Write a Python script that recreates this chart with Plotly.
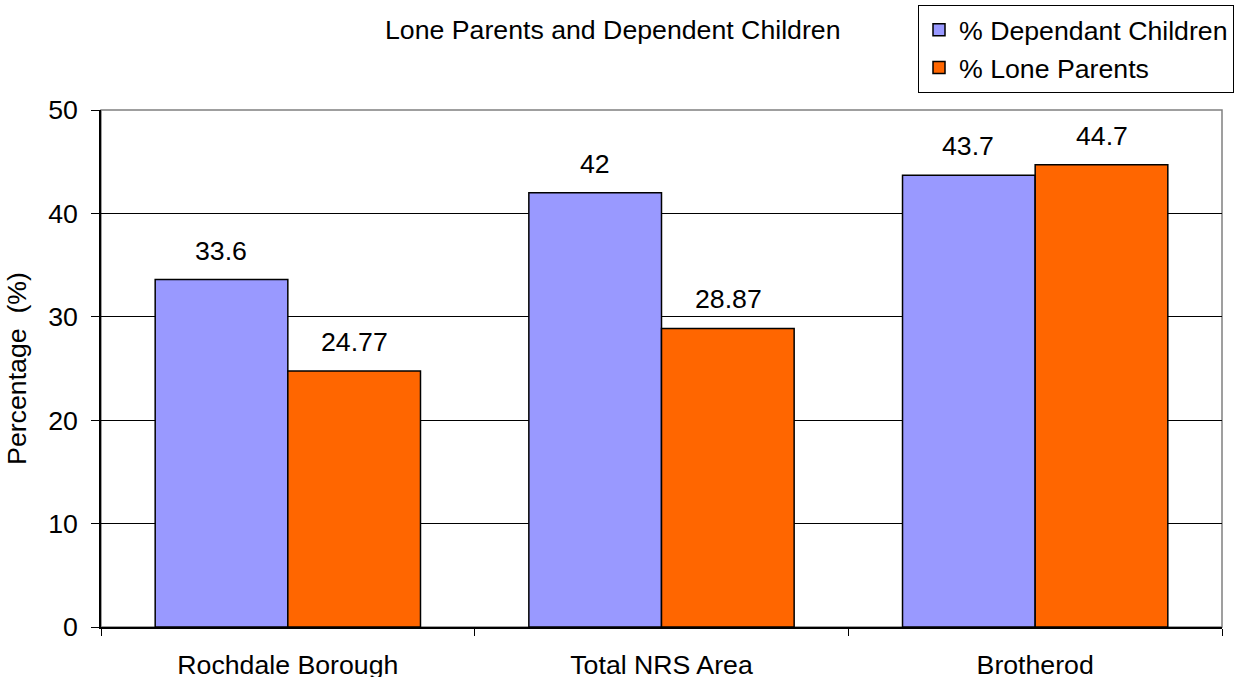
import plotly.graph_objects as go

categories = ["Rochdale Borough", "Total NRS Area", "Brotherod"]
dependant_children = [33.6, 42, 43.7]
lone_parents = [24.77, 28.87, 44.7]
series_names = ["% Dependant Children", "% Lone Parents"]

BLUE = "#9999FF"
ORANGE = "#FF6600"
FONT = "Liberation Sans, Arial, sans-serif"
FS = 26.7

W, H = 1242, 677
L, R, T, B = 101, 20, 110, 50
PW, PH = W - L - R, H - T - B

fig = go.Figure()
for name, vals, col in [(series_names[0], dependant_children, BLUE),
                        (series_names[1], lone_parents, ORANGE)]:
    fig.add_trace(go.Bar(
        x=categories, y=vals, name=name,
        marker=dict(color=col, line=dict(color="black", width=1.5)),
    ))

# value labels above each bar
for vals, shift in [(dependant_children, -67), (lone_parents, 67)]:
    for cat, v in zip(categories, vals):
        fig.add_annotation(x=cat, y=v, text=f"{v:g}", showarrow=False,
                           xshift=shift, yanchor="bottom", yshift=12,
                           font=dict(size=FS, color="black", family=FONT))

# grey plot-area frame
fig.add_shape(type="rect", xref="x domain", yref="y domain",
              x0=0, y0=0, x1=1, y1=1,
              line=dict(color="#808080", width=1.5), layer="below")

fig.add_annotation(text="Lone Parents and Dependent Children",
                   xref="paper", yref="paper",
                   x=(613 - L) / PW, y=(H - B - 30) / PH,
                   xanchor="center", yanchor="middle", showarrow=False,
                   font=dict(size=FS, color="black", family=FONT))

fig.update_layout(
    barmode="group", bargap=0.29, bargroupgap=0,
    paper_bgcolor="white", plot_bgcolor="white",
    width=W, height=H,
    margin=dict(l=L, r=R, t=T, b=B),
    font=dict(family=FONT, size=FS, color="black"),
    showlegend=True,
    legend=dict(
        # paper x / container y: only reserves top space, which the margin already covers
        xref="paper", yref="container",
        x=(918 - L) / PW, xanchor="left",
        y=1 - 5 / H, yanchor="top",
        bordercolor="black", borderwidth=1, bgcolor="white",
        font=dict(size=FS, family=FONT, color="black"),
        tracegroupgap=0,
    ),
    xaxis=dict(
        showline=True, linecolor="black", linewidth=1.5,
        ticks="outside", tickson="boundaries", ticklen=7, tickcolor="black",
        showgrid=False, tickfont=dict(size=FS),
        ticklabelstandoff=13, automargin=False,
    ),
    yaxis=dict(
        range=[0, 50], dtick=10,
        showline=True, linecolor="black", linewidth=1.5,
        ticks="outside", ticklen=8, tickcolor="black",
        showgrid=True, gridcolor="black", gridwidth=1,
        zeroline=False, tickfont=dict(size=FS),
        ticklabelstandoff=8, automargin=False,
        title=dict(text="Percentage\u00a0\u00a0(%)", font=dict(size=FS), standoff=14),
    ),
)

# drop the default page margin so the figure sits at the window origin
fig.write_html("out.html", config={"displayModeBar": False},
               post_script="document.body.style.margin='0';")
